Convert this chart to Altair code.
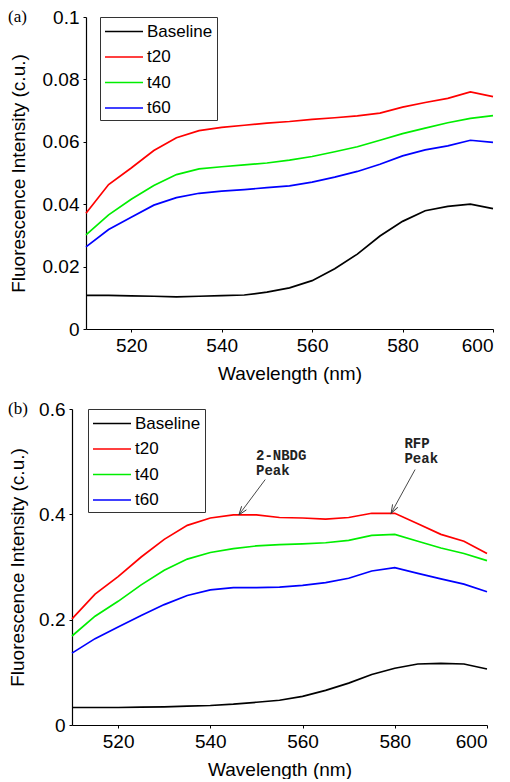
import math
import altair as alt
import pandas as pd

wavelength = [510, 515, 520, 525, 530, 535, 540, 545, 550, 555, 560, 565, 570, 575, 580, 585, 590, 595, 600]
series = ["Baseline", "t20", "t40", "t60"]
colors = ["#000000", "#ff0000", "#00ee00", "#0000ff"]

# Panel (a)
a_baseline = [0.0108, 0.0108, 0.0106, 0.0105, 0.0103, 0.0105, 0.0107, 0.0109, 0.0118, 0.0132, 0.0155, 0.0193, 0.0240, 0.0298, 0.0345, 0.0379, 0.0393, 0.0400, 0.0386]
a_t20 = [0.0371, 0.0463, 0.0516, 0.0572, 0.0613, 0.0636, 0.0646, 0.0653, 0.0660, 0.0665, 0.0672, 0.0677, 0.0683, 0.0692, 0.0711, 0.0726, 0.0739, 0.0760, 0.0745]
a_t40 = [0.0302, 0.0366, 0.0416, 0.0460, 0.0495, 0.0513, 0.0520, 0.0526, 0.0532, 0.0541, 0.0553, 0.0568, 0.0584, 0.0605, 0.0626, 0.0644, 0.0661, 0.0675, 0.0684]
a_t60 = [0.0263, 0.0319, 0.0358, 0.0397, 0.0421, 0.0435, 0.0442, 0.0447, 0.0453, 0.0459, 0.0471, 0.0487, 0.0505, 0.0528, 0.0555, 0.0574, 0.0587, 0.0605, 0.0598]

# Panel (b)
b_baseline = [0.0332, 0.0332, 0.0332, 0.0338, 0.0344, 0.0357, 0.0370, 0.0395, 0.0432, 0.0470, 0.0545, 0.0657, 0.0795, 0.0958, 0.1077, 0.1158, 0.1170, 0.1158, 0.1064]
b_t20 = [0.2016, 0.2486, 0.2818, 0.3190, 0.3525, 0.3790, 0.3930, 0.3990, 0.3990, 0.3940, 0.3930, 0.3910, 0.3940, 0.4020, 0.4020, 0.3820, 0.3620, 0.3490, 0.3256]
b_t40 = [0.1690, 0.2066, 0.2348, 0.2660, 0.2940, 0.3150, 0.3275, 0.3350, 0.3400, 0.3425, 0.3440, 0.3460, 0.3507, 0.3600, 0.3620, 0.3490, 0.3360, 0.3256, 0.3120]
b_t60 = [0.1365, 0.1640, 0.1860, 0.2080, 0.2286, 0.2460, 0.2567, 0.2610, 0.2610, 0.2617, 0.2650, 0.2705, 0.2787, 0.2924, 0.2987, 0.2880, 0.2774, 0.2674, 0.2530]

# Annotations for panel (b)
ann_text_lines = [["2-NBDG", "Peak"], ["RFP", "Peak"]]
ann_text_x = [549.9, 582.1]
ann_text_y = [0.525, 0.547]
ann_tail_x = [551.9, 584.4]
ann_tail_y = [0.466, 0.485]
ann_tip_x = [546.2, 579.2]
ann_tip_y = [0.399, 0.402]

FONT = "Liberation Sans"
XMIN, XMAX = 510, 600


def long_df(vals):
    rows = []
    for name, ys in zip(series, vals):
        for w, v in zip(wavelength, ys):
            rows.append({"Wavelength": w, "Intensity": v, "Series": name})
    return pd.DataFrame(rows)


def panel(vals, ymax, ytick, w, h, title_pad, label, legend_x, shift=0, annotate=False):
    """shift: horizontal inset (px) of the plot area inside the view."""
    df = long_df(vals)
    yvals = [round(i * ytick, 4) for i in range(int(round(ymax / ytick)) + 1)]
    view_w = w + shift
    x = alt.X("Wavelength:Q",
              scale=alt.Scale(domain=[XMIN, XMAX], nice=False, zero=False,
                              range=[shift, view_w]),
              axis=alt.Axis(title="Wavelength (nm)", values=[520, 540, 560, 580, 600],
                            titlePadding=9))
    y = alt.Y("Intensity:Q", scale=alt.Scale(domain=[0, ymax], nice=False),
              axis=alt.Axis(title="Fluorescence Intensity (c.u.)", values=yvals,
                            titlePadding=title_pad, format="~g", offset=-shift))
    lines = alt.Chart(df).mark_line(strokeWidth=1.7).encode(
        x=x, y=y,
        color=alt.Color("Series:N", scale=alt.Scale(domain=series, range=colors),
                        legend=alt.Legend(title=None, orient="none",
                                          legendX=legend_x + shift, legendY=0,
                                          symbolType="M-1,0L3,0", symbolSize=361,
                                          symbolStrokeWidth=1.7, labelFontSize=17,
                                          labelFont=FONT, labelColor="black",
                                          strokeColor="#333333", padding=4,
                                          rowPadding=6.5, labelOffset=22,
                                          fillColor="white")),
    )
    lab = alt.Chart(pd.DataFrame({"t": [label]})).mark_text(
        font="Liberation Serif", fontSize=17, align="left", baseline="middle", color="black"
    ).encode(text="t:N", x=alt.value(-64), y=alt.value(0))
    layers = [lines, lab]
    if annotate:
        sx = w / (XMAX - XMIN)
        sy = h / ymax
        angles = []
        for tx, ty, px, py in zip(ann_tail_x, ann_tail_y, ann_tip_x, ann_tip_y):
            dx = (px - tx) * sx
            dy = -(py - ty) * sy
            angles.append(math.degrees(math.atan2(dx, -dy)) % 360)
        arr = pd.DataFrame({"x": ann_tail_x, "y": ann_tail_y, "x2": ann_tip_x,
                            "y2": ann_tip_y, "a": angles})
        rules = alt.Chart(arr).mark_rule(color="#333333", strokeWidth=0.9).encode(
            x="x:Q", y="y:Q", x2="x2:Q", y2="y2:Q")
        heads = alt.Chart(arr).mark_point(shape="M-0.6,1.7L0,0L0.6,1.7", size=100,
                                           color="#333333", filled=False,
                                           strokeWidth=0.9, opacity=1).encode(
            x="x2:Q", y="y2:Q", angle=alt.Angle("a:Q", scale=None))
        txt = pd.DataFrame({"x": ann_text_x, "y": ann_text_y, "t": ann_text_lines})
        texts = alt.Chart(txt).mark_text(font="Liberation Mono", fontWeight="bold",
                                          fontSize=14, align="left", baseline="top",
                                          lineHeight=15, color="#222222").encode(
            x="x:Q", y="y:Q", text="t")
        layers += [rules, heads, texts]
    return alt.layer(*layers).properties(width=view_w, height=h)


top = panel([a_baseline, a_t20, a_t40, a_t60], 0.1, 0.02, 407, 312, 14, "(a)", 14, shift=14)
bottom = panel([b_baseline, b_t20, b_t40, b_t60], 0.6, 0.2, 415, 316, 11, "(b)", 16,
               annotate=True)

chart = alt.vconcat(top, bottom, spacing=17).resolve_scale(
    color="independent"
).configure(padding=0, font=FONT).configure_view(stroke=None).configure_axis(
    labelFont=FONT, titleFont=FONT, labelFontSize=19, titleFontSize=19,
    titleFontWeight="normal", labelColor="black", titleColor="black",
    domainColor="black", tickColor="black", tickSize=3, labelPadding=4,
    grid=False, domainWidth=1.2
)

chart.save("out.html", embed_options={"renderer": "svg", "actions": False})
